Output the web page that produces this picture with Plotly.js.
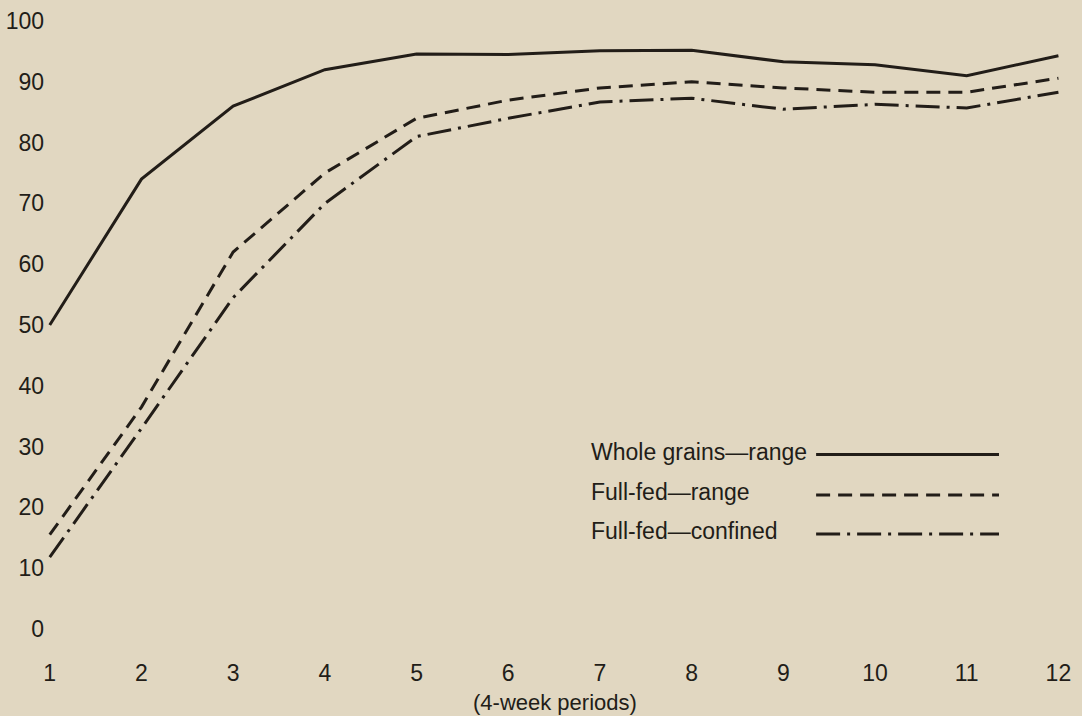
<!DOCTYPE html>
<html>
<head>
<meta charset="utf-8">
<script src="https://cdn.plot.ly/plotly-3.0.1.min.js"></script>
<style>
  html, body { margin: 0; padding: 0; background: #e1d7c1; }
  #chart { width: 1082px; height: 716px; }
</style>
</head>
<body>
<div id="chart"></div>
<script>
// Data
const periods = [1, 2, 3, 4, 5, 6, 7, 8, 9, 10, 11, 12];
const wholeGrainsRange = [50, 74, 86, 92, 94.6, 94.5, 95.1, 95.2, 93.3, 92.8, 91, 94.3];
const fullFedRange = [15.5, 36.5, 62, 75, 84, 87, 89, 90, 89, 88.3, 88.3, 90.6];
const fullFedConfined = [11.8, 33, 54.5, 70, 81, 84, 86.7, 87.3, 85.5, 86.3, 85.7, 88.3];
const seriesNames = ["Whole grains\u2014range", "Full-fed\u2014range", "Full-fed\u2014confined"];
const yTickVals = [0, 10, 20, 30, 40, 50, 60, 70, 80, 90, 100];
const xTitle = "(4-week periods)";

const ink = "#221d18";
const font = "Liberation Sans, Arial, sans-serif";
const dashes = ["solid", "14px,8px", "24px,7px,3px,7px"];

const series = [wholeGrainsRange, fullFedRange, fullFedConfined];
const traces = series.map((ys, i) => ({
  type: "scatter",
  mode: "lines",
  x: periods,
  y: ys,
  name: seriesNames[i],
  line: { color: ink, width: 3, dash: dashes[i] },
  cliponaxis: false,
  hoverinfo: "skip"
}));

// Custom legend: text on the left, line sample on the right
const legendY = [0.295, 0.230, 0.167];
const annotations = seriesNames.map((t, i) => ({
  xref: "paper", yref: "paper",
  x: 0.533, y: legendY[i],
  xanchor: "left", yanchor: "middle",
  text: t, showarrow: false,
  font: { family: font, size: 23, color: ink }
}));
annotations.push({
  xref: "paper", yref: "paper",
  x: 0.5, y: -0.109,
  xanchor: "center", yanchor: "middle",
  text: xTitle, showarrow: false,
  font: { family: font, size: 22, color: ink }
});
const shapes = seriesNames.map((t, i) => ({
  type: "line", xref: "paper", yref: "paper",
  x0: 0.757, x1: 0.937, y0: legendY[i] - 0.004, y1: legendY[i] - 0.004,
  line: { color: ink, width: 3, dash: dashes[i] }
}));

const layout = {
  width: 1082, height: 716,
  margin: { l: 47, r: 19, t: 15, b: 81 },
  paper_bgcolor: "#e1d7c1",
  plot_bgcolor: "#e1d7c1",
  showlegend: false,
  xaxis: {
    range: [0.97, 12.05],
    tickvals: periods,
    ticktext: periods.map(String),
    showgrid: false, zeroline: false, showline: false,
    ticks: "", ticklabelstandoff: 22,
    tickfont: { family: font, size: 23, color: ink }
  },
  yaxis: {
    range: [-1, 101],
    tickvals: yTickVals,
    ticktext: yTickVals.map(String),
    showgrid: false, zeroline: false, showline: false,
    ticks: "", ticklabelstandoff: 2,
    tickfont: { family: font, size: 23, color: ink }
  },
  annotations: annotations,
  shapes: shapes
};

Plotly.newPlot("chart", traces, layout, { staticPlot: true, displayModeBar: false });
</script>
</body>
</html>
